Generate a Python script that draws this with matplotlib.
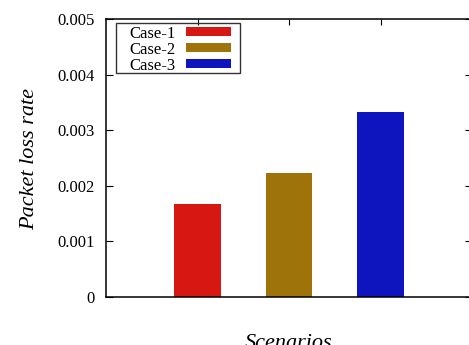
import matplotlib
matplotlib.use("Agg")
import matplotlib.pyplot as plt
from matplotlib.patches import Rectangle

cases = ["Case-1", "Case-2", "Case-3"]
loss_rate = [0.001667, 0.002222, 0.003333]
colors = ["#d71812", "#9e730a", "#0e14be"]
yticks = [0, 0.001, 0.002, 0.003, 0.004, 0.005]
ytick_labels = ["0", "0.001", "0.002", "0.003", "0.004", "0.005"]

plt.rcParams["font.family"] = "Liberation Serif"

W, H = 469, 345
fig = plt.figure(figsize=(W / 100, H / 100), dpi=100)
ax = fig.add_axes([106 / W, (H - 297) / H, (472 - 106) / W, (297 - 19) / H])

positions = [1, 2, 3]
for pos, val, col, lab in zip(positions, loss_rate, colors, cases):
    ax.bar(pos, val, width=0.51, color=col, label=lab, zorder=2)

ax.set_xlim(0, 4)
ax.set_ylim(0, 0.005)
ax.set_yticks(yticks)
ax.set_yticklabels(ytick_labels, fontsize=12)
ax.set_xticks(positions)
ax.set_xticklabels([])
ax.tick_params(axis="y", direction="in", length=5, width=0.8, right=True, pad=8)
ax.tick_params(axis="x", direction="in", length=4, width=0.8, top=True, bottom=False)
for s in ax.spines.values():
    s.set_linewidth(1.1)

fig.text(30 / W, (H - 159) / H, "Packet loss rate", fontsize=16, style="italic",
         rotation=90, ha="center", va="center")
fig.text(289 / W, (H - 343) / H, "Scenarios", fontsize=16, style="italic",
         ha="center", va="center")

# legend box with text before the colour swatch
fig.patches.append(Rectangle((116 / W, (H - 73) / H), (240 - 116) / W, 50 / H,
                             transform=fig.transFigure, fill=False,
                             edgecolor="#333333", linewidth=1.0, zorder=5))
leg = ax.legend(loc="upper left", bbox_to_anchor=(127 / W, (H - 23) / H),
                bbox_transform=fig.transFigure, fontsize=12, markerfirst=False,
                frameon=False, handlelength=2.7, handleheight=0.5,
                labelspacing=0.0, borderpad=0.15, handletextpad=0.6,
                borderaxespad=0)

fig.savefig("out.png", dpi=100)
